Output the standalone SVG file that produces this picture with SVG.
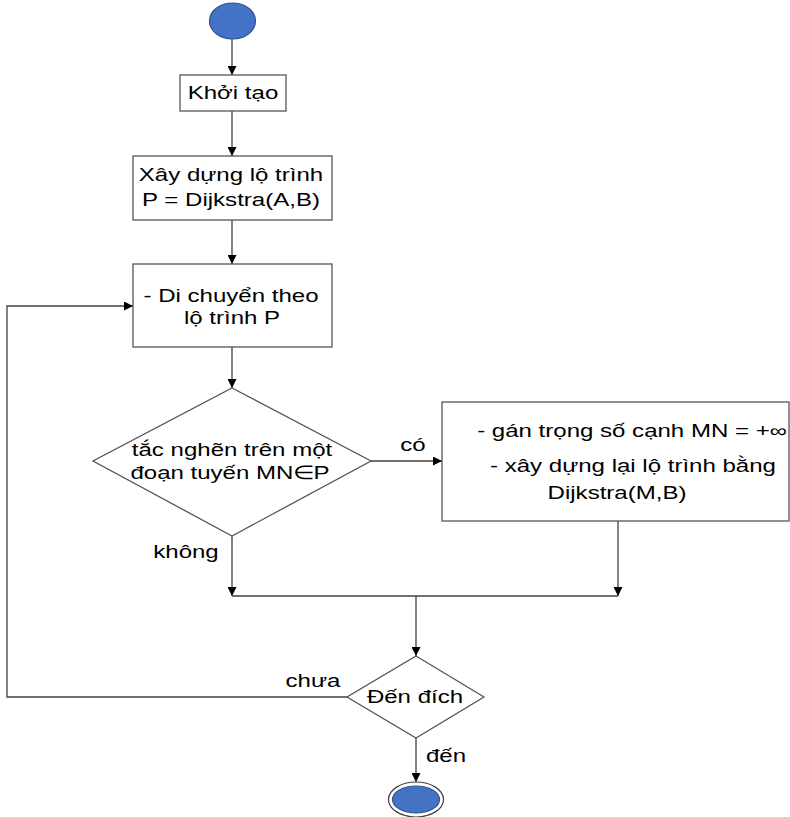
<svg xmlns="http://www.w3.org/2000/svg" width="790" height="817" viewBox="0 0 790 817">
<defs>
<marker id="arr" viewBox="0 0 10 10" refX="10" refY="5" markerWidth="9" markerHeight="9" markerUnits="userSpaceOnUse" orient="auto">
<path d="M0,0 L10,5 L0,10 z" fill="#000"/>
</marker>
<style>
.box{fill:#fff;stroke:#555;stroke-width:1.3}
.term{fill:#4472C4;stroke:#2F528F;stroke-width:1.2}
.con{fill:none;stroke:#404040;stroke-width:1.3}
.t{font-family:"Liberation Sans",Arial,sans-serif;font-size:18.5px;fill:#000;text-anchor:middle}
</style>
</defs>
<rect width="790" height="817" fill="#fff"/>
<g id="connectors">
<line class="con" x1="232" y1="39" x2="232" y2="75" marker-end="url(#arr)"/>
<line class="con" x1="232" y1="111" x2="232" y2="156" marker-end="url(#arr)"/>
<line class="con" x1="232" y1="220" x2="232" y2="264" marker-end="url(#arr)"/>
<line class="con" x1="232" y1="347" x2="232" y2="388" marker-end="url(#arr)"/>
<line class="con" x1="371" y1="461" x2="442" y2="461" marker-end="url(#arr)"/>
<line class="con" x1="232" y1="536" x2="232" y2="596" marker-end="url(#arr)"/>
<line class="con" x1="618" y1="521" x2="618" y2="596" marker-end="url(#arr)"/>
<line class="con" x1="232" y1="596" x2="618" y2="596"/>
<line class="con" x1="416" y1="596" x2="416" y2="656" marker-end="url(#arr)"/>
<polyline class="con" points="347,697 7,697 7,306 133,306" marker-end="url(#arr)"/>
<line class="con" x1="416" y1="738" x2="416" y2="782" marker-end="url(#arr)"/>
<text class="t" transform="translate(413,451) scale(1.3,1)">có</text>
<text class="t" transform="translate(186,558) scale(1.3,1)">không</text>
<text class="t" transform="translate(313,687) scale(1.3,1)">chưa</text>
<text class="t" transform="translate(446,762) scale(1.3,1)">đến</text>
</g>
<g id="start">
<ellipse class="term" cx="232.5" cy="21" rx="23" ry="18"/>
</g>
<g id="init">
<rect class="box" x="180" y="75" width="106" height="36"/>
<text class="t" transform="translate(233,99) scale(1.3,1)">Khởi tạo</text>
</g>
<g id="build">
<rect class="box" x="133" y="156" width="199" height="64"/>
<text class="t" transform="translate(231,181) scale(1.3,1)">Xây dựng lộ trình</text>
<text class="t" transform="translate(231,206) scale(1.3,1)">P = Dijkstra(A,B)</text>
</g>
<g id="move">
<rect class="box" x="133" y="264" width="199" height="83"/>
<text class="t" transform="translate(231,302) scale(1.3,1)">- Di chuyển theo</text>
<text class="t" transform="translate(232,324) scale(1.3,1)">lộ trình P</text>
</g>
<g id="congestion">
<polygon class="box" points="232,388 371,461 232,536 93,461"/>
<text class="t" transform="translate(232,456) scale(1.3,1)">tắc nghẽn trên một</text>
<text class="t" transform="translate(230,479) scale(1.3,1)">đoạn tuyến MN∈P</text>
</g>
<g id="reroute">
<rect class="box" x="442" y="402" width="347" height="119"/>
<text class="t" transform="translate(632,437) scale(1.3,1)">- gán trọng số cạnh MN = +∞</text>
<text class="t" transform="translate(633,472) scale(1.3,1)">- xây dựng lại lộ trình bằng</text>
<text class="t" transform="translate(617,499) scale(1.3,1)">Dijkstra(M,B)</text>
</g>
<g id="arrived">
<polygon class="box" points="416,656 484,697 416,738 347,697"/>
<text class="t" transform="translate(415,703) scale(1.3,1)">Đến đích</text>
</g>
<g id="end">
<ellipse cx="416" cy="799.5" rx="27.5" ry="17.5" fill="#fff" stroke="#404040" stroke-width="1.2"/>
<ellipse class="term" cx="416" cy="799.5" rx="23.5" ry="13.5"/>
</g>
</svg>
